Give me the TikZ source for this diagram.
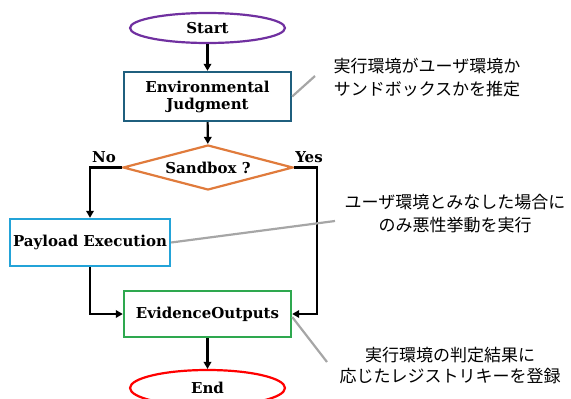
\documentclass[tikz,border=0pt]{standalone}
\usepackage{fontspec}
\setmainfont{DejaVu Serif}
\newfontfamily\jp{Noto Sans CJK JP}
\usetikzlibrary{shapes.geometric,arrows.meta}
\definecolor{cstart}{HTML}{7030A0}
\definecolor{cenv}{HTML}{1F5F7E}
\definecolor{cdia}{HTML}{E07B3C}
\definecolor{cpay}{HTML}{23A3D8}
\definecolor{cev}{HTML}{2EA84F}
\definecolor{cend}{HTML}{FF0000}
\definecolor{cnote}{HTML}{A6A6A6}
\begin{document}
\begin{tikzpicture}[x=1pt,y=-1pt,
  lbl/.style={font=\fontsize{15}{18}\selectfont\bfseries},
  term/.style={ellipse,draw,line width=2.2pt,lbl,inner sep=0pt},
  procbox/.style={rectangle,draw,line width=2.4pt,lbl,align=center,inner sep=0pt},
  decis/.style={diamond,draw,line width=2.2pt,lbl,inner sep=0pt,shape aspect=3.78},
  arr/.style={draw=black,line width=2.1pt,-{Triangle[length=7pt,width=7.5pt]}},
  note/.style={font=\jp\fontsize{17}{23}\selectfont,align=center},
  noteline/.style={draw=cnote,line width=2.2pt}]
\useasboundingbox (0,0) rectangle (571,399);
\node[term,draw=cstart,minimum width=155pt,minimum height=30pt] (start) at (207.5,28) {Start};
\node[procbox,draw=cenv,minimum width=167pt,minimum height=49pt] (env) at (207.5,96.5) {Environmental\\[-1pt]Judgment};
\node[decis,draw=cdia,minimum width=170pt,minimum height=45pt] (dia) at (208,167.5) {Sandbox ?};
\node[procbox,draw=cpay,minimum width=160pt,minimum height=47pt] (pay) at (90,242.5) {Payload Execution};
\node[procbox,draw=cev,minimum width=167pt,minimum height=46pt] (ev) at (207.5,314) {EvidenceOutputs};
\node[term,draw=cend,minimum width=155pt,minimum height=36pt] (end) at (207.5,388) {End};
\node[lbl] (no) at (104,157) {No};
\node[lbl] (yes) at (309,157) {Yes};
\coordinate (yesx) at (317,0);
\draw[arr] (start) -- (env);
\draw[arr] (env) -- (dia);
\draw[arr] (dia.west) -| (pay.north);
\draw[arr] (dia.east) -- (dia.east -| yesx) |- (ev.east);
\draw[arr] (pay.south) |- (ev.west);
\draw[arr] (ev) -- (end);
\node[note] (n1) at (427,78) {実行環境がユーザ環境か\\サンドボックスかを推定};
\node[note] (n2) at (455,214) {ユーザ環境とみなした場合に\\のみ悪性挙動を実行};
\node[note,font=\jp\fontsize{17}{21}\selectfont] (n3) at (450,366) {実行環境の判定結果に\\応じたレジストリキーを登録};
\coordinate (n1a) at (315,76);
\coordinate (n2a) at (335,221);
\coordinate (n3a) at (327,362);
\draw[noteline] (env.east) -- (n1a);
\draw[noteline] (pay.east) -- (n2a);
\draw[noteline] ([yshift=-3pt]ev.east) -- (n3a);
\end{tikzpicture}
\end{document}
